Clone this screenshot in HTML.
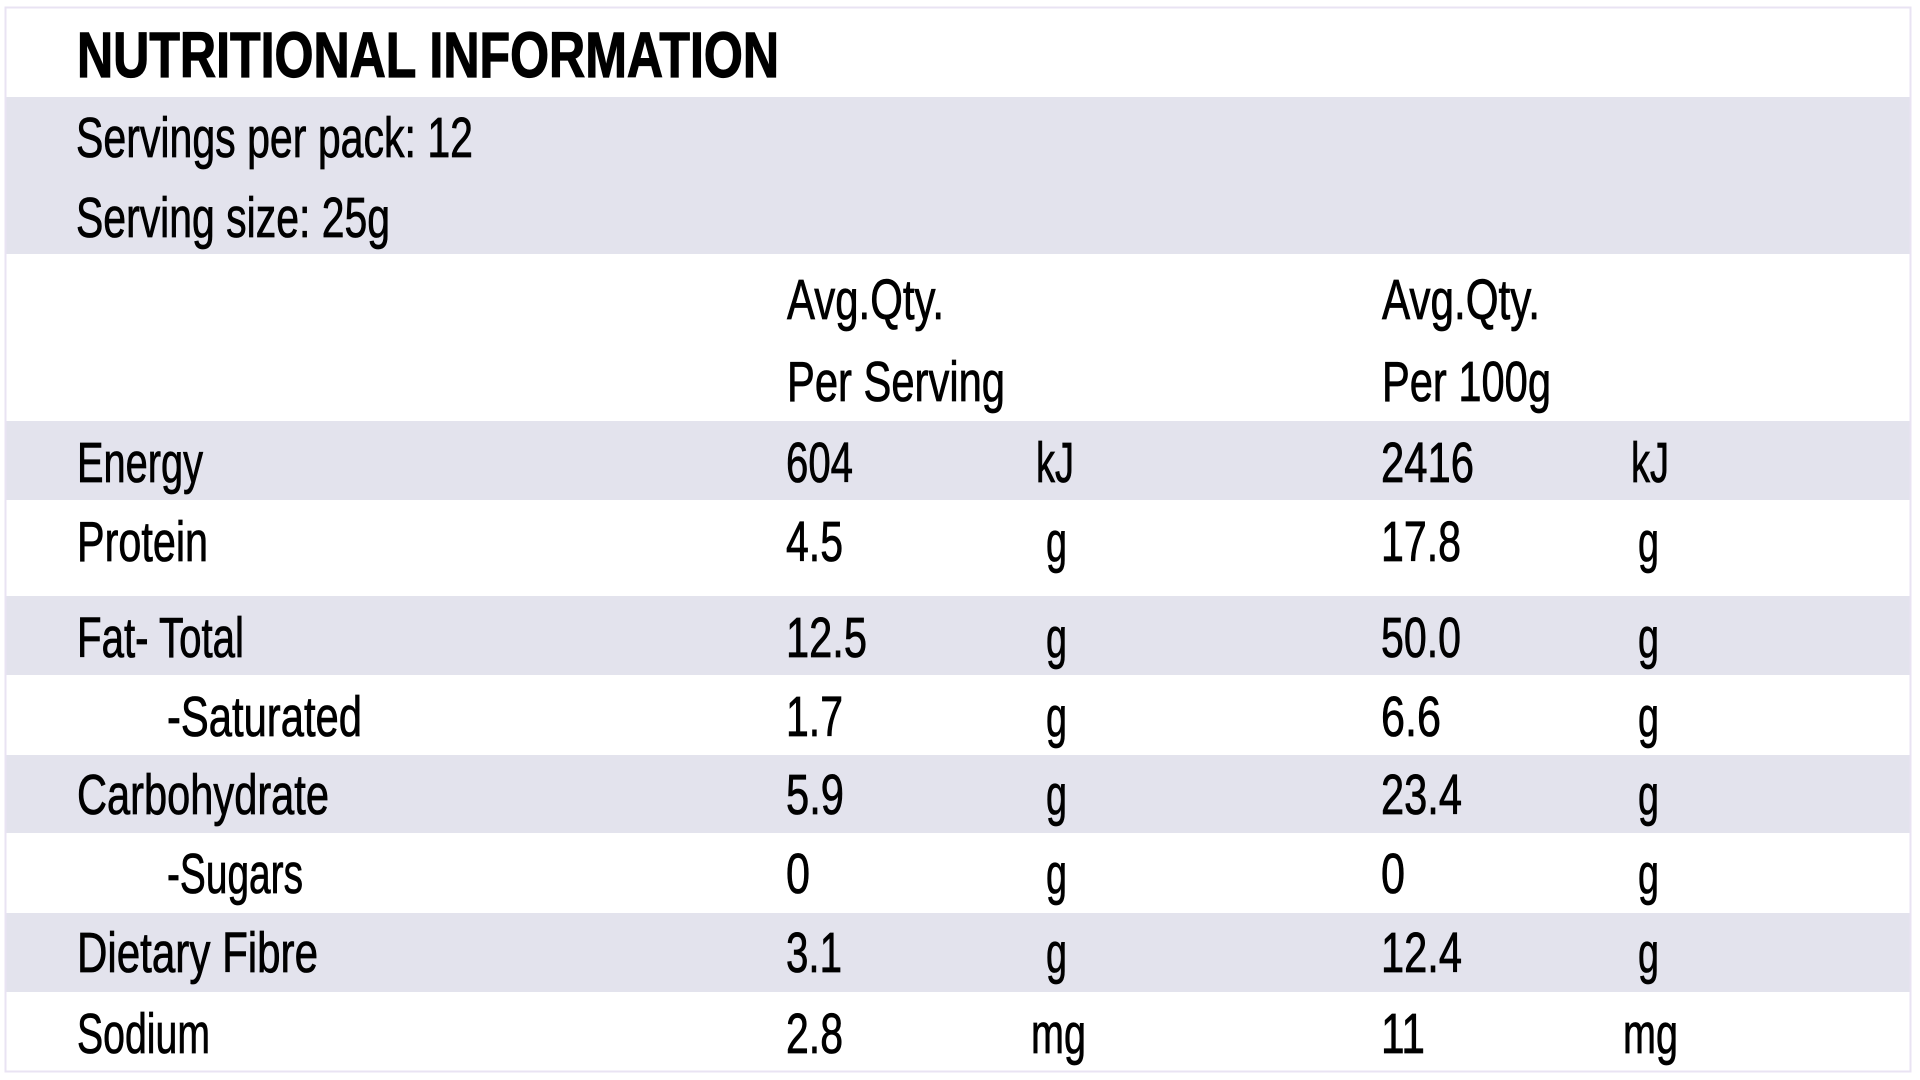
<!DOCTYPE html>
<html>
<head>
<meta charset="utf-8">
<style>
  html,body{margin:0;padding:0;background:#ffffff;}
  svg{display:block;}
  text{font-family:"Liberation Sans", Arial, sans-serif; fill:#000;}
  .b{font-size:57px; stroke:#000; stroke-width:0.8px;}
  .t{font-size:64px; font-weight:bold; stroke:#000; stroke-width:1.2px;}
</style>
</head>
<body>
<svg width="1920" height="1080" viewBox="0 0 1920 1080" xmlns="http://www.w3.org/2000/svg">
  <rect x="0" y="0" width="1920" height="1080" fill="#ffffff"/>
  <!-- bands -->
  <rect x="6" y="97" width="1905" height="157" fill="#e3e3ed"/>
  <rect x="6" y="421" width="1905" height="79" fill="#e3e3ed"/>
  <rect x="6" y="596" width="1905" height="79" fill="#e3e3ed"/>
  <rect x="6" y="755" width="1905" height="78" fill="#e3e3ed"/>
  <rect x="6" y="913" width="1905" height="79" fill="#e3e3ed"/>
  <!-- border -->
  <rect x="5.5" y="7.5" width="1905" height="1064" fill="none" stroke="#e9e3f3" stroke-width="2"/>

  <!-- header -->
  <text class="t" x="77" y="77" textLength="702" lengthAdjust="spacingAndGlyphs">NUTRITIONAL INFORMATION</text>
  <text class="b" x="76" y="157" textLength="397" lengthAdjust="spacingAndGlyphs">Servings per pack: 12</text>
  <text class="b" x="76" y="237" textLength="314" lengthAdjust="spacingAndGlyphs">Serving size: 25g</text>

  <text class="b" x="787" y="319" textLength="157" lengthAdjust="spacingAndGlyphs">Avg.Qty.</text>
  <text class="b" x="787" y="401" textLength="218" lengthAdjust="spacingAndGlyphs">Per Serving</text>
  <text class="b" x="1382" y="319" textLength="158" lengthAdjust="spacingAndGlyphs">Avg.Qty.</text>
  <text class="b" x="1382" y="401" textLength="169" lengthAdjust="spacingAndGlyphs">Per 100g</text>

  <!-- labels -->
  <text class="b" x="77" y="482" textLength="126" lengthAdjust="spacingAndGlyphs">Energy</text>
  <text class="b" x="77" y="561" textLength="131" lengthAdjust="spacingAndGlyphs">Protein</text>
  <text class="b" x="77" y="657" textLength="167" lengthAdjust="spacingAndGlyphs">Fat- Total</text>
  <text class="b" x="167" y="736" textLength="195" lengthAdjust="spacingAndGlyphs">-Saturated</text>
  <text class="b" x="77" y="814" textLength="252" lengthAdjust="spacingAndGlyphs">Carbohydrate</text>
  <text class="b" x="167" y="893" textLength="136" lengthAdjust="spacingAndGlyphs">-Sugars</text>
  <text class="b" x="77" y="972" textLength="241" lengthAdjust="spacingAndGlyphs">Dietary Fibre</text>
  <text class="b" x="77" y="1053" textLength="133" lengthAdjust="spacingAndGlyphs">Sodium</text>

  <!-- col1 values -->
  <text class="b" x="786" y="482" textLength="67" lengthAdjust="spacingAndGlyphs">604</text>
  <text class="b" x="786" y="561" textLength="57" lengthAdjust="spacingAndGlyphs">4.5</text>
  <text class="b" x="786" y="657" textLength="81" lengthAdjust="spacingAndGlyphs">12.5</text>
  <text class="b" x="786" y="736" textLength="57" lengthAdjust="spacingAndGlyphs">1.7</text>
  <text class="b" x="786" y="814" textLength="58" lengthAdjust="spacingAndGlyphs">5.9</text>
  <text class="b" x="786" y="893" textLength="24" lengthAdjust="spacingAndGlyphs">0</text>
  <text class="b" x="786" y="972" textLength="56" lengthAdjust="spacingAndGlyphs">3.1</text>
  <text class="b" x="786" y="1053" textLength="57" lengthAdjust="spacingAndGlyphs">2.8</text>

  <!-- col1 units -->
  <text class="b" x="1036" y="482" textLength="38" lengthAdjust="spacingAndGlyphs">kJ</text>
  <text class="b" x="1046" y="561" textLength="21" lengthAdjust="spacingAndGlyphs">g</text>
  <text class="b" x="1046" y="657" textLength="21" lengthAdjust="spacingAndGlyphs">g</text>
  <text class="b" x="1046" y="736" textLength="21" lengthAdjust="spacingAndGlyphs">g</text>
  <text class="b" x="1046" y="814" textLength="21" lengthAdjust="spacingAndGlyphs">g</text>
  <text class="b" x="1046" y="893" textLength="21" lengthAdjust="spacingAndGlyphs">g</text>
  <text class="b" x="1046" y="972" textLength="21" lengthAdjust="spacingAndGlyphs">g</text>
  <text class="b" x="1031" y="1053" textLength="55" lengthAdjust="spacingAndGlyphs">mg</text>

  <!-- col2 values -->
  <text class="b" x="1381" y="482" textLength="93" lengthAdjust="spacingAndGlyphs">2416</text>
  <text class="b" x="1381" y="561" textLength="80" lengthAdjust="spacingAndGlyphs">17.8</text>
  <text class="b" x="1381" y="657" textLength="80" lengthAdjust="spacingAndGlyphs">50.0</text>
  <text class="b" x="1381" y="736" textLength="60" lengthAdjust="spacingAndGlyphs">6.6</text>
  <text class="b" x="1381" y="814" textLength="81" lengthAdjust="spacingAndGlyphs">23.4</text>
  <text class="b" x="1381" y="893" textLength="24" lengthAdjust="spacingAndGlyphs">0</text>
  <text class="b" x="1381" y="972" textLength="81" lengthAdjust="spacingAndGlyphs">12.4</text>
  <text class="b" x="1381" y="1053" textLength="44" lengthAdjust="spacingAndGlyphs">11</text>

  <!-- col2 units -->
  <text class="b" x="1631" y="482" textLength="38" lengthAdjust="spacingAndGlyphs">kJ</text>
  <text class="b" x="1638" y="561" textLength="21" lengthAdjust="spacingAndGlyphs">g</text>
  <text class="b" x="1638" y="657" textLength="21" lengthAdjust="spacingAndGlyphs">g</text>
  <text class="b" x="1638" y="736" textLength="21" lengthAdjust="spacingAndGlyphs">g</text>
  <text class="b" x="1638" y="814" textLength="21" lengthAdjust="spacingAndGlyphs">g</text>
  <text class="b" x="1638" y="893" textLength="21" lengthAdjust="spacingAndGlyphs">g</text>
  <text class="b" x="1638" y="972" textLength="21" lengthAdjust="spacingAndGlyphs">g</text>
  <text class="b" x="1623" y="1053" textLength="55" lengthAdjust="spacingAndGlyphs">mg</text>
</svg>
</body>
</html>
